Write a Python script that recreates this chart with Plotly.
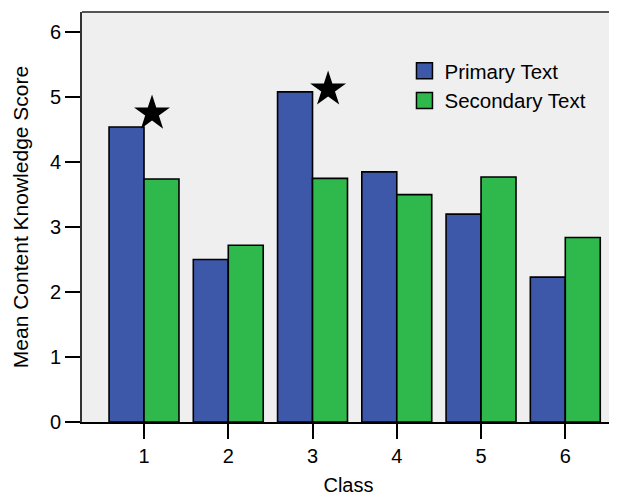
import plotly.graph_objects as go

classes = [1, 2, 3, 4, 5, 6]
class_labels = ["1", "2", "3", "4", "5", "6"]
primary = [4.54, 2.50, 5.08, 3.85, 3.20, 2.23]
secondary = [3.74, 2.72, 3.75, 3.50, 3.77, 2.84]
star_x = [1.095, 3.185]
star_y = [4.75, 5.12]
y_ticks = [0, 1, 2, 3, 4, 5, 6]

BLUE = "#3d57a9"
GREEN = "#2fb84b"
FONT = "Liberation Sans, Arial, sans-serif"

fig = go.Figure()
fig.add_trace(go.Bar(x=classes, y=primary, name="Primary Text", marker=dict(color=BLUE, line=dict(color="black", width=1.6)), showlegend=False))
fig.add_trace(go.Bar(x=classes, y=secondary, name="Secondary Text", marker=dict(color=GREEN, line=dict(color="black", width=1.6)), showlegend=False))
fig.add_trace(go.Scatter(x=star_x, y=star_y, mode="markers", marker=dict(symbol="star", size=27, color="black"), showlegend=False, hoverinfo="skip"))
# legend proxies
fig.add_trace(go.Scatter(x=[None], y=[None], mode="markers", name="Primary Text",
                         marker=dict(symbol="square", size=16, color=BLUE, line=dict(color="black", width=1.5))))
fig.add_trace(go.Scatter(x=[None], y=[None], mode="markers", name="Secondary Text",
                         marker=dict(symbol="square", size=16, color=GREEN, line=dict(color="black", width=1.5))))

# page body has an 8px default margin, so the figure is 8px smaller and margins shifted
fig.update_layout(
    width=609, height=488,
    margin=dict(l=74, r=2, t=4, b=74),
    paper_bgcolor="white",
    plot_bgcolor="#efefef",
    barmode="group", bargap=0.17, bargroupgap=0,
    font=dict(family=FONT, size=20, color="black"),
    legend=dict(x=0.605, y=0.905, xanchor="left", yanchor="top", bgcolor="rgba(0,0,0,0)",
                font=dict(size=20.5), tracegroupgap=0),
    xaxis=dict(range=[0.264, 6.59], tickvals=classes, ticktext=class_labels, ticks="outside",
               ticklen=15, tickwidth=2, tickcolor="black", showline=True, linecolor="black", linewidth=1.5,
               tickfont=dict(size=20), automargin=False,
               showgrid=False, zeroline=False, title=dict(text="Class", standoff=15, font=dict(size=20)), fixedrange=True),
    yaxis=dict(range=[0, 6.31], tickvals=y_ticks, ticks="outside", ticklen=15, tickwidth=2, tickcolor="black",
               showline=True, linecolor="#333333", linewidth=2, mirror=False, showgrid=False, zeroline=False,
               tickfont=dict(size=20), automargin=False,
               title=dict(text="Mean Content Knowledge Score", standoff=16, font=dict(size=21)), ticklabelstandoff=0),
    shapes=[dict(type="line", xref="paper", yref="paper", x0=0, x1=1, y0=1, y1=1, line=dict(color="#555555", width=2))],
)

fig.write_html("out.html")
